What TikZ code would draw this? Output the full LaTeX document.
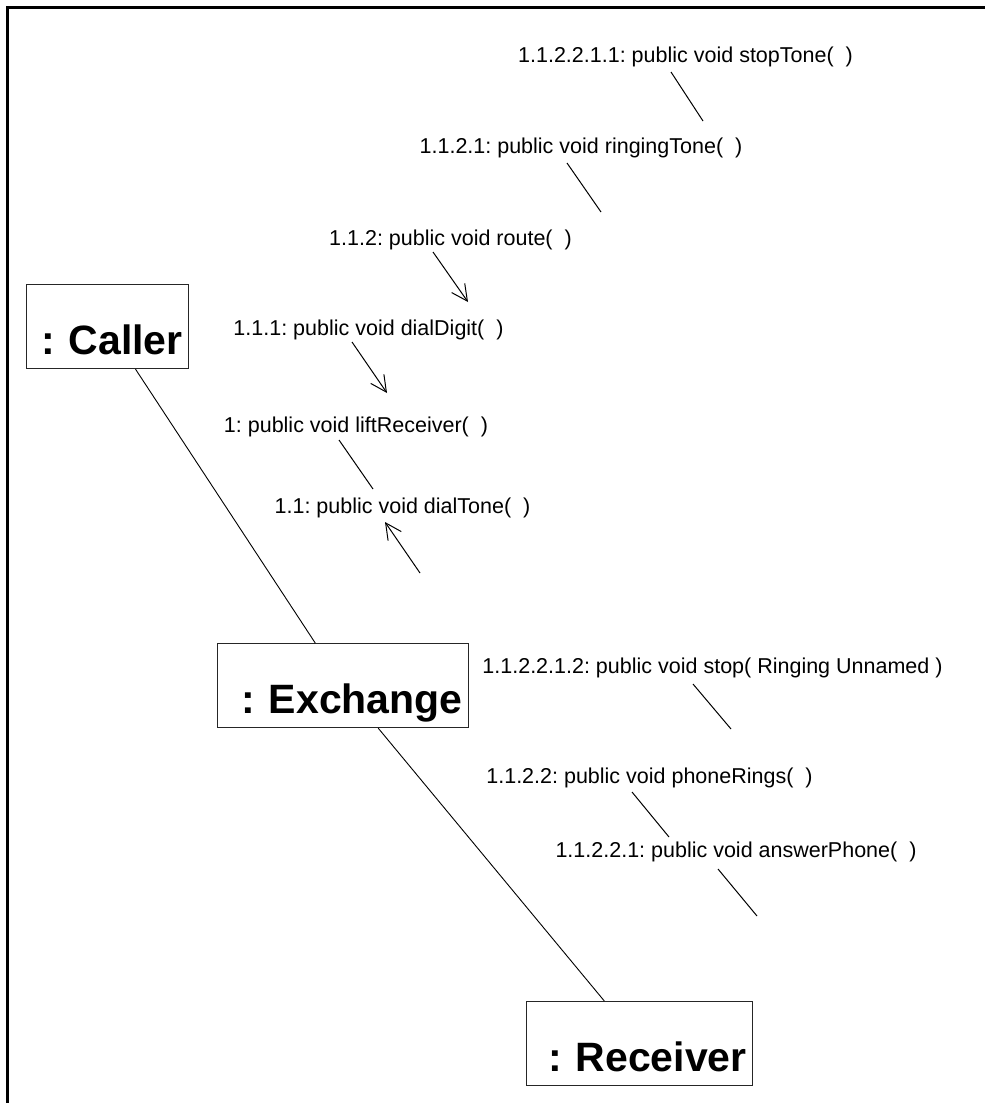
\documentclass[tikz,border=0pt]{standalone}
\usepackage{fontspec}
\setmainfont{Liberation Sans}
\usetikzlibrary{arrows.meta}
\frenchspacing
\begin{document}
\begin{tikzpicture}[x=1pt,y=-1pt,
  obj/.style={draw=black!85, line width=1.2pt, rectangle, inner xsep=6pt, inner ysep=0pt,
    text height=70pt, text depth=14pt, align=right,
    font=\fontsize{41}{41}\selectfont\bfseries\frenchspacing, anchor=north west},
  msg/.style={font=\fontsize{21.5}{24}\selectfont\frenchspacing, inner sep=0pt, anchor=base},
  link/.style={draw, line width=0.9pt},
  call/.style={draw, line width=1pt},
  callarrow/.style={call, -{Straight Barb[length=16pt,width=16pt,line width=1pt]}},
  frame/.style={draw, line width=3pt}
]
\useasboundingbox (0,0) rectangle (985,1103);
\draw[frame] (7,1103) -- (7,7) -- (985,7);

% objects
\node[obj, text width=150pt] (caller)   at (26,284)  {: Caller};
\node[obj, text width=239pt] (exchange) at (217,643) {: Exchange};
\node[obj, text width=214pt] (receiver) at (526,1001) {: Receiver};

\draw[link] (caller) -- (exchange);
\draw[link] (exchange) -- (receiver);

% message labels
\node[msg] (m1) at (685.5,62)  {1.1.2.2.1.1: public void stopTone(\ \ )};
\node[msg] (m2) at (581,153)   {1.1.2.1: public void ringingTone(\ \ )};
\node[msg] (m3) at (450.5,245) {1.1.2: public void route(\ \ )};
\node[msg] (m4) at (368.5,335) {1.1.1: public void dialDigit(\ \ )};
\node[msg] (m5) at (356,432)   {1: public void liftReceiver(\ \ )};
\node[msg] (m6) at (402.5,513) {1.1: public void dialTone(\ \ )};
\node[msg] (m7) at (712.5,673) {1.1.2.2.1.2: public void stop( Ringing Unnamed )};
\node[msg] (m8) at (649.5,783) {1.1.2.2: public void phoneRings(\ \ )};
\node[msg] (m9) at (736,857)   {1.1.2.2.1: public void answerPhone(\ \ )};

% message arrows
\coordinate (a1s) at (671,72);  \coordinate (a1e) at (703,121);
\coordinate (a2s) at (567,163); \coordinate (a2e) at (601,212);
\coordinate (a3s) at (433,252); \coordinate (a3e) at (468,302);
\coordinate (a4s) at (352,342); \coordinate (a4e) at (387,393);
\coordinate (a5s) at (339,440); \coordinate (a5e) at (373,489);
\coordinate (a6s) at (420,573); \coordinate (a6e) at (385,522);
\coordinate (a7s) at (693,684); \coordinate (a7e) at (731,729);
\coordinate (a8s) at (632,792); \coordinate (a8e) at (669,837);
\coordinate (a9s) at (718,869); \coordinate (a9e) at (757,916);

\draw[call] (a1s) -- (a1e);
\draw[call] (a2s) -- (a2e);
\draw[callarrow] (a3s) -- (a3e);
\draw[callarrow] (a4s) -- (a4e);
\draw[call] (a5s) -- (a5e);
\draw[callarrow] (a6s) -- (a6e);
\draw[call] (a7s) -- (a7e);
\draw[call] (a8s) -- (a8e);
\draw[call] (a9s) -- (a9e);
\end{tikzpicture}
\end{document}
